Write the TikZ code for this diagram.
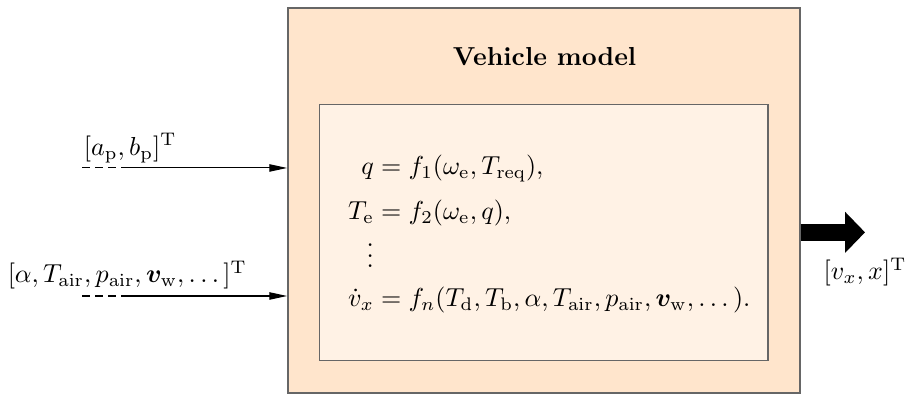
\documentclass[tikz,border=0pt]{standalone}
\usepackage{amsmath,amssymb}
\usepackage{bm}
\usepackage{xcolor}
\usetikzlibrary{arrows.meta,positioning}

\begin{document}
\begin{tikzpicture}[
  block/.style={draw=black!60, line width=0.6pt},
  inarrow/.style={-{Triangle[length=2.4mm,width=1mm]}},
  stub/.style={dash pattern=on 3pt off 2pt},
  bigarrow/.style={line width=2.3mm, -{Triangle[length=2.7mm,width=5.4mm]}}
]
\useasboundingbox (0,0) rectangle (12.23,5.34);
\node[block, fill=orange!20, minimum width=6.92cm, minimum height=5.2cm] (model) at (7.35,2.63) {};
\node[block, fill=orange!10, minimum width=6.06cm, minimum height=3.46cm] (inner) at (7.35,2.20) {};
\node[font=\bfseries] (title) at (7.36,4.57) {Vehicle model};
\node[anchor=west] (eqs) at (4.58,2.17) {$\begin{aligned}
  q &= f_1(\omega_\mathrm{e}, T_\mathrm{req}),\\[2pt]
  T_\mathrm{e} &= f_2(\omega_\mathrm{e}, q),\\[-4pt]
  \vdots &\\
  \dot{v}_x &= f_n(T_\mathrm{d}, T_\mathrm{b}, \alpha, T_\mathrm{air}, p_\mathrm{air}, \bm{v}_\mathrm{w}, \dots).
\end{aligned}$};

% inputs
\coordinate (in1s) at (1.11,3.07);
\coordinate (in1m) at (1.65,3.07);
\coordinate (in2s) at (1.11,1.34);
\coordinate (in2m) at (1.65,1.34);
\node (in1) at (1.76,3.34) {$[a_\mathrm{p}, b_\mathrm{p}]^\mathrm{T}$};
\node (in2) at (1.72,1.62) {$[\alpha, T_\mathrm{air}, p_\mathrm{air}, \bm{v}_\mathrm{w}, \dots]^\mathrm{T}$};
\draw[stub] (in1s) -- (in1m);
\draw[inarrow] (in1m) -- (in1m -| model.west);
\draw[stub] (in2s) -- (in2m);
\draw[inarrow] (in2m) -- (in2m -| model.west);

% output
\coordinate (outp) at (11.69,2.20);
\node (out) at (11.69,1.66) {$[v_x, x]^\mathrm{T}$};
\draw[bigarrow] (outp -| model.east) -- (outp);
\end{tikzpicture}
\end{document}
